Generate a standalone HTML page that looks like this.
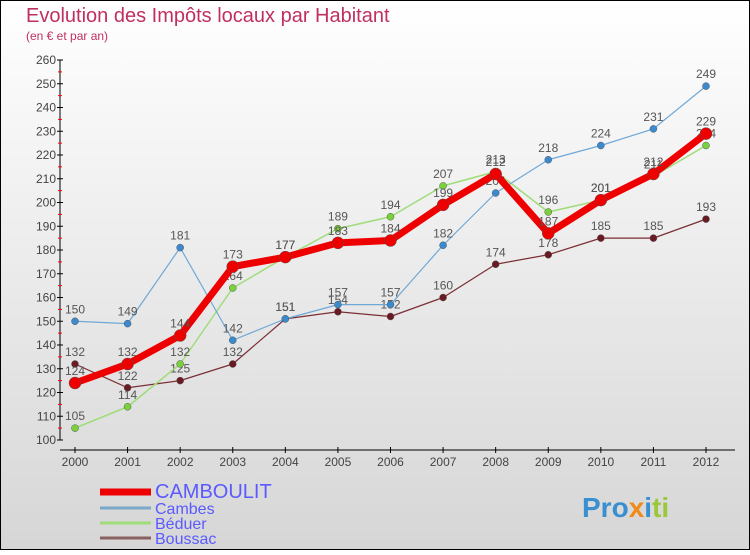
<!DOCTYPE html>
<html><head><meta charset="utf-8"><style>
html,body{margin:0;padding:0}
body{width:750px;height:550px;overflow:hidden;font-family:"Liberation Sans",sans-serif}
</style></head><body>
<svg width="750" height="550" xmlns="http://www.w3.org/2000/svg" id="svg">
<defs><linearGradient id="bg" x1="0" y1="0" x2="0" y2="1"><stop offset="0" stop-color="#ffffff"/><stop offset="1" stop-color="#d6d6d6"/></linearGradient></defs>
<rect x="0.5" y="0.5" width="749" height="549" fill="url(#bg)" stroke="#000"/>
<text x="26" y="22" font-size="20" fill="#c0305f">Evolution des Impôts locaux par Habitant</text>
<text x="26" y="40" font-size="12" fill="#c0305f">(en € et par an)</text>
<g id="axes"></g><g id="series"></g><g id="legend"></g>
<text x="582" y="517" font-size="28" font-weight="bold" fill="#3a8fd0">Pro<tspan fill="#f08a1a">x</tspan><tspan fill="#3a8fd0">i</tspan><tspan fill="#9bc83a">ti</tspan></text>
</svg>
<script>
const years=["2000","2001","2002","2003","2004","2005","2006","2007","2008","2009","2010","2011","2012"];
const camboulit=[124,132,144,173,177,183,184,199,212,187,201,212,229];
const cambes=[150,149,181,142,151,157,157,182,204,218,224,231,249];
const beduer=[105,114,132,164,177,189,194,207,213,196,201,211,224];
const boussac=[132,122,125,132,151,154,152,160,174,178,185,185,193];
const yTicks=[100,110,120,130,140,150,160,170,180,190,200,210,220,230,240,250,260];
const NS="http://www.w3.org/2000/svg";
const xs=i=>75+i*(706-75)/12;
const ys=v=>440-(v-100)*380/160;
function mk(tag,at,parent){const e=document.createElementNS(NS,tag);for(const k in at)e.setAttribute(k,at[k]);parent.appendChild(e);return e;}
const axes=document.getElementById('axes');
let ya=mk('line',{x1:60,y1:60,x2:60,y2:440,stroke:'#000'},axes);


let xa=mk('line',{x1:60,y1:450,x2:735,y2:450,stroke:'#000'},axes);


yTicks.forEach((v,i)=>{
  mk('line',{x1:57,y1:ys(v),x2:63,y2:ys(v),stroke:'#000'},axes);
  if(i<yTicks.length-1)mk('line',{x1:58,y1:ys(v+5),x2:62,y2:ys(v+5),stroke:'#f00'},axes);
  const t=mk('text',{x:56,y:ys(v)+4,'font-size':12,'text-anchor':'end',fill:'#444'},axes);t.textContent=v;
  
  
});
years.forEach((y,i)=>{
  mk('line',{x1:xs(i),y1:447,x2:xs(i),y2:453,stroke:'#000'},axes);
  const t=mk('text',{x:xs(i),y:466,'font-size':12,'text-anchor':'middle',fill:'#444'},axes);t.textContent=y;
  
  
});
const series=[
 {name:'boussac',data:boussac,color:'#7a2f35',w:1.2,r:3.5,fill:'#6a1a22'},
 {name:'beduer',data:beduer,color:'#9fdc7a',w:1.5,r:3.5,fill:'#7ad23a'},
 {name:'cambes',data:cambes,color:'#6fa8d8',w:1.2,r:3.5,fill:'#3a8ad0'},
 {name:'camboulit',data:camboulit,color:'#ee0000',w:7,r:6,fill:'#ee0000'}
];
const sg=document.getElementById('series');
series.forEach(s=>{
  const g=mk('g',{},sg);
  
  
  const pts=s.data.map((v,i)=>xs(i)+','+ys(v)).join(' ');
  const pl=mk('polyline',{points:pts,fill:'none',stroke:s.color,'stroke-width':s.w,'stroke-linejoin':'round'},g);
  
  
  s.data.forEach((v,i)=>{
    const c=mk('circle',{cx:xs(i),cy:ys(v),r:s.r,fill:s.fill,stroke:'#555','stroke-width':0.5},g);
    
    
    const t=mk('text',{x:xs(i),y:ys(v)-8,'font-size':12,'text-anchor':'middle',fill:'#555'},g);t.textContent=v;
    
    
  });
});
const lg=document.getElementById('legend');
const leg=[['CAMBOULIT','#ee0000',7,18],['Cambes','#7aa8c8',3,14],['Béduer','#9fdc7a',3,14],['Boussac','#8a6060',3,14]];
const ly=[492,508,523,538];
leg.forEach((l,i)=>{
  const g=mk('g',{},lg);
  
  
  mk('line',{x1:100,y1:ly[i],x2:151,y2:ly[i],stroke:l[1],'stroke-width':l[2]},g);
  const t=mk('text',{x:155,y:ly[i]+6,'font-size':l[3]+2,fill:'#5a5aff'},g);t.textContent=l[0];
});
</script>
</body></html>
